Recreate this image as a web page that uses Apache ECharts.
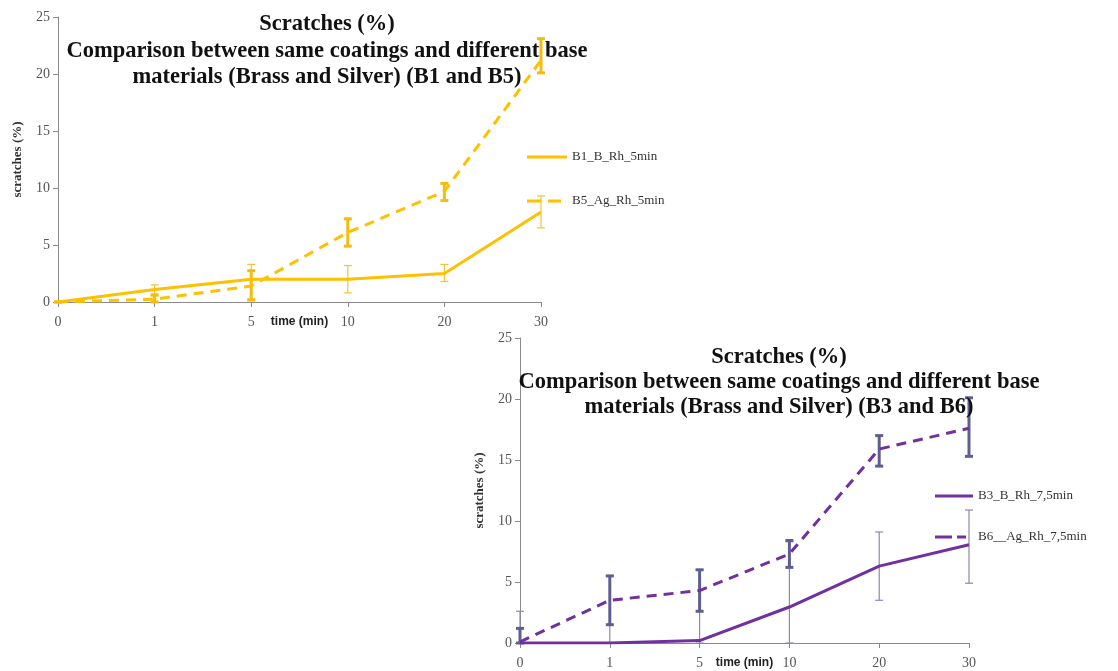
<!DOCTYPE html>
<html>
<head>
<meta charset="utf-8">
<script src="https://cdn.jsdelivr.net/npm/echarts@6/dist/echarts.min.js"></script>
<style>html,body{margin:0;padding:0;background:#fff;}#c{width:1118px;height:671px;}</style>
</head>
<body>
<div id="c"></div>
<script>
// ---- data ----
var categories = ['0', '1', '5', '10', '20', '30'];
var yTicks = [0, 5, 10, 15, 20, 25];

var b1 = [0, 1.1, 2.0, 2.0, 2.5, 7.9];
var b1Low = [0, 0.7, 0.1, 0.8, 1.8, 6.5];
var b1High = [0, 1.5, 3.3, 3.2, 3.3, 9.3];
var b5 = [0, 0.25, 1.4, 6.1, 9.7, 21.2];
var b5Low = [0, 0, 0.2, 4.9, 8.9, 20.1];
var b5High = [0, 0.6, 2.75, 7.3, 10.4, 23.1];

var b3 = [0, 0, 0.2, 2.95, 6.3, 8.05];
var b3Low = [0, 0, 0, 0, 3.5, 4.9];
var b3High = [2.6, 5.5, 6.0, 8.3, 9.1, 10.9];
var b6 = [0.1, 3.5, 4.3, 7.3, 15.9, 17.6];
var b6Low = [0, 1.5, 2.6, 6.2, 14.5, 15.3];
var b6High = [1.2, 5.5, 6.0, 8.4, 17.0, 20.1];

var names = ['B1_B_Rh_5min', 'B5_Ag_Rh_5min', 'B3_B_Rh_7,5min', 'B6__Ag_Rh_7,5min'];
var titleTop = 'Scratches (%)\nComparison between same coatings and different base\nmaterials (Brass and Silver) (B1 and B5)';
var titleBottom = 'Scratches (%)\nComparison between same coatings and different base\nmaterials (Brass and Silver) (B3 and B6)';

function errData(low, high) {
  return categories.map(function (c, i) { return [i, low[i], high[i]]; });
}
function errSeries(gi, low, high, color, width, cap) {
  return {
    type: 'custom', xAxisIndex: gi, yAxisIndex: gi, z: 1,
    data: errData(low, high),
    renderItem: function (params, api) {
      var x = api.value(0);
      var p1 = api.coord([x, api.value(1)]);
      var p2 = api.coord([x, api.value(2)]);
      var st = { stroke: color, lineWidth: width };
      return {
        type: 'group',
        children: [
          { type: 'line', shape: { x1: p1[0], y1: p1[1], x2: p2[0], y2: p2[1] }, style: st },
          { type: 'line', shape: { x1: p1[0] - cap, y1: p1[1], x2: p1[0] + cap, y2: p1[1] }, style: st },
          { type: 'line', shape: { x1: p2[0] - cap, y1: p2[1], x2: p2[0] + cap, y2: p2[1] }, style: st }
        ]
      };
    }
  };
}

var serif = 'Liberation Serif';
function xAxis(gi) {
  return {
    type: 'category', gridIndex: gi, data: categories, boundaryGap: false,
    axisLine: { lineStyle: { color: '#8a8a8a', width: 1 } },
    axisTick: { show: true, length: 5, lineStyle: { color: '#8a8a8a' } },
    axisLabel: { fontFamily: serif, fontSize: 14, color: '#555', margin: 13 },
    name: 'time (min)', nameLocation: 'middle', nameGap: 14, nameMoveOverlap: false,
    nameTextStyle: { fontFamily: 'Liberation Sans', fontWeight: 'bold', fontSize: 12, color: '#222' }
  };
}
function yAxis(gi) {
  return {
    type: 'value', gridIndex: gi, min: yTicks[0], max: yTicks[yTicks.length - 1], interval: 5,
    axisLine: { show: true, lineStyle: { color: '#8a8a8a', width: 1 } },
    axisTick: { show: true, length: 5, lineStyle: { color: '#8a8a8a' } },
    axisLabel: { fontFamily: serif, fontSize: 14, color: '#555', margin: 8 },
    splitLine: { show: false },
    name: 'scratches (%)', nameLocation: 'middle', nameGap: 34, nameRotate: 90, nameMoveOverlap: false,
    nameTextStyle: { fontFamily: serif, fontWeight: 'bold', fontSize: 13, color: '#333' }
  };
}

var gold = '#FFC000';
var purple = '#7030A0';
var solidIcon = 'path://M0,0h40v3h-40z';
var dashIcon = 'path://M0,0h14v3h-14z M21,0h13v3h-13z M40,0h0.01v3h-0.01z';
var dashIcon2 = 'path://M0,0h17v3h-17z M22,0h9v3h-9z M38,0h0.01v3h-0.01z';

var option = {
  animation: false,
  backgroundColor: '#fff',
  title: [
    { text: titleTop, left: 322, top: 6, textAlign: 'center',
      textStyle: { fontFamily: serif, fontWeight: 'bold', fontSize: 22.5, lineHeight: 26.5, color: '#111' } },
    { text: titleBottom, left: 774, top: 340, textAlign: 'center',
      textStyle: { fontFamily: serif, fontWeight: 'bold', fontSize: 22.5, lineHeight: 25, color: '#111' } }
  ],
  legend: [
    { data: [{ name: names[0], icon: solidIcon }, { name: names[1], icon: dashIcon }], orient: 'vertical', left: 527, top: 150, padding: 0, itemWidth: 40, itemHeight: 3, itemGap: 30,
      itemStyle: { color: gold, borderWidth: 0 }, lineStyle: { width: 0 },
      textStyle: { fontFamily: serif, fontSize: 13, color: '#333', lineHeight: 14 } },
    { data: [{ name: names[2], icon: solidIcon }, { name: names[3], icon: dashIcon2 }], orient: 'vertical', left: 935, top: 489, padding: 0, itemWidth: 38, itemHeight: 3, itemGap: 27,
      itemStyle: { color: purple, borderWidth: 0 }, lineStyle: { width: 0 },
      textStyle: { fontFamily: serif, fontSize: 13, color: '#333', lineHeight: 14 } }
  ],
  grid: [
    { left: 58, top: 17, width: 483, height: 285 },
    { left: 520, top: 338, width: 449, height: 305 }
  ],
  xAxis: [xAxis(0), xAxis(1)],
  yAxis: [yAxis(0), yAxis(1)],
  series: [
    errSeries(0, b1Low, b1High, '#F3C23C', 1.2, 4),
    errSeries(0, b5Low, b5High, '#F5BC10', 3, 4),
    { name: names[0], type: 'line', xAxisIndex: 0, yAxisIndex: 0, data: b1, symbol: 'none', z: 3,
      lineStyle: { color: gold, width: 3 }, itemStyle: { color: gold } },
    { name: names[1], type: 'line', xAxisIndex: 0, yAxisIndex: 0, data: b5, symbol: 'none', z: 3,
      lineStyle: { color: gold, width: 3, type: [10, 7] }, itemStyle: { color: gold } },
    errSeries(1, b3Low, b3High, '#8A8AAE', 1.2, 4),
    errSeries(1, b6Low, b6High, '#5E5F90', 3, 4),
    { name: names[2], type: 'line', xAxisIndex: 1, yAxisIndex: 1, data: b3, symbol: 'none', z: 3,
      lineStyle: { color: purple, width: 3 }, itemStyle: { color: purple } },
    { name: names[3], type: 'line', xAxisIndex: 1, yAxisIndex: 1, data: b6, symbol: 'none', z: 3,
      lineStyle: { color: purple, width: 3, type: [10, 7] }, itemStyle: { color: purple } }
  ]
};
var chart = echarts.init(document.getElementById('c'), null, { renderer: 'canvas' });
chart.setOption(option);
</script>
</body>
</html>
